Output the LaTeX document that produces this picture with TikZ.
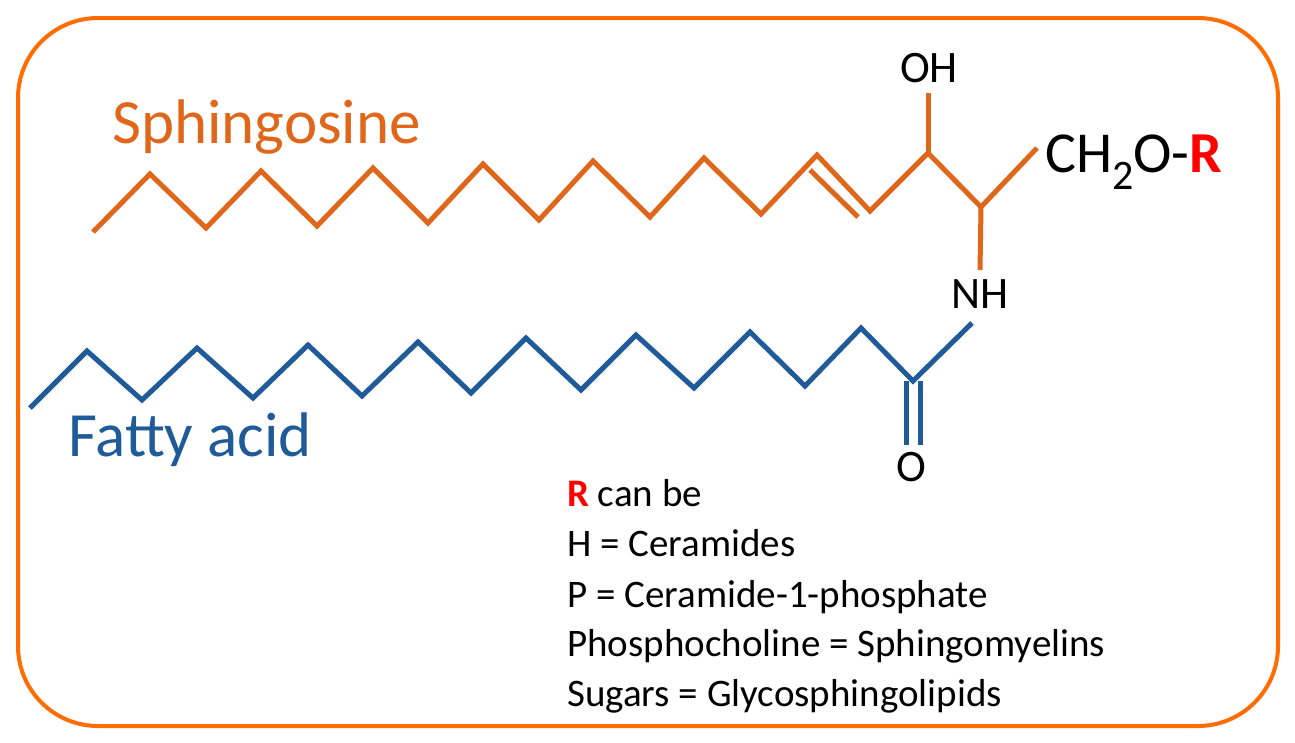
\documentclass[tikz,border=0pt]{standalone}
\usepackage{fontspec}
\setmainfont{Carlito}
\definecolor{sph}{HTML}{E0661A}
\definecolor{fa}{HTML}{1F5A99}
\definecolor{rr}{HTML}{FF0000}
\tikzset{sbond/.style={draw=sph,line width=5pt,line join=miter},fbond/.style={draw=fa,line width=5pt},
 lbl/.style={inner sep=0pt,font=\fontsize{39}{42}\selectfont},
 atom/.style={inner sep=0pt,font=\fontsize{45}{48}\selectfont}}
\begin{document}
\begin{tikzpicture}[x=1pt,y=-1pt]
\useasboundingbox (0,0) rectangle (1295,742);
\draw[draw=orange!85!red,line width=4pt,rounded corners=80pt] (18,18) rectangle (1278,726);
\node[anchor=base west,text=sph,inner sep=0pt,font=\fontsize{63}{66}\selectfont] (sph) at (112,143) {Sphingosine};
\node[anchor=base west,text=fa,inner sep=0pt,font=\fontsize{63}{66}\selectfont] (fat) at (68,456) {Fatty acid};
% sphingosine chain
\draw[sbond] (93,232)--(150,174)--(206,228)--(261,171)--(317,226)--(373,168)--(428,223)--(483,164)--(539,220)--(593,161)--(650,217)--(704,158)--(761,214)--(817,155)--(870,211)--(928,153)--(981,207)--(1037,148);
\draw[sbond] (810,170)--(858,217);
\draw[sbond] (928,153)--(928,93);
\draw[sbond] (981,207)--(980,270);
% fatty chain
\draw[fbond] (30,408)--(87,351)--(142,400)--(197,348)--(253,398)--(308,345)--(362,396)--(418,342)--(471,393)--(526,338)--(581,390)--(636,335)--(694,388)--(750,332)--(805,386)--(861,328)--(913,381)--(972,323);
\draw[fbond] (906,381)--(906,445);
\draw[fbond] (920,381)--(920,445);
\node[atom,anchor=base] (oh) at (929,82) {OH};
\node[atom,anchor=base] (nh) at (980,308) {NH};
\node[atom,anchor=base] (o) at (911,481) {O};
\node[anchor=base west,inner sep=0pt,font=\fontsize{58}{60}\selectfont] (ch) at (1045,172) {CH\raisebox{-0.3em}{\fontsize{42}{44}\selectfont 2}O-\textcolor{rr}{\textbf{R}}};
\node[lbl,anchor=base west] (l1) at (567,506) {\textcolor{rr}{\textbf{R}} can be};
\node[lbl,anchor=base west] (l2) at (567,556) {H = Ceramides};
\node[lbl,anchor=base west] (l3) at (567,607) {P = Ceramide-1-phosphate};
\node[lbl,anchor=base west] (l4) at (567,656) {Phosphocholine = Sphingomyelins};
\node[lbl,anchor=base west] (l5) at (567,706) {Sugars = Glycosphingolipids};
\end{tikzpicture}
\end{document}
